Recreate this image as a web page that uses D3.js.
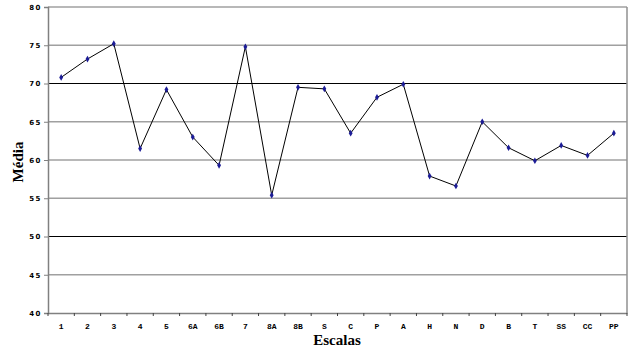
<!DOCTYPE html>
<html><head><meta charset="utf-8">
<script src="https://cdn.jsdelivr.net/npm/d3@7"></script>
<style>body{margin:0;background:#fff}svg{display:block}</style>
</head><body>
<svg id="c" width="637" height="352"></svg>
<script>
const categories = ["1","2","3","4","5","6A","6B","7","8A","8B","S","C","P","A","H","N","D","B","T","SS","CC","PP"];
const values = [70.8,73.2,75.2,61.5,69.2,63.0,59.3,74.8,55.4,69.5,69.3,63.5,68.2,69.9,57.9,56.6,65.0,61.6,59.9,61.9,60.6,63.5];
const yTicks = [40,45,50,55,60,65,70,75,80];
const blackLines = [50,70];

const svg = d3.select("#c");
const m = {left:48, right:627, top:7, bottom:313};
const x = d3.scaleBand().domain(categories).range([m.left, m.right]);
const y = d3.scaleLinear().domain([40,80]).range([m.bottom, m.top]);

// gridlines
svg.append("g").selectAll("line").data(yTicks.filter(v=>v>40)).join("line")
  .attr("x1", m.left).attr("x2", m.right)
  .attr("y1", d=>y(d)).attr("y2", d=>y(d))
  .attr("stroke", d=>blackLines.includes(d) ? "#000" : "#a0a0a0")
  .attr("stroke-width", d=>blackLines.includes(d) ? 1.2 : 1.5);
// right border
svg.append("line").attr("x1", m.right).attr("x2", m.right).attr("y1", m.top).attr("y2", m.bottom)
  .attr("stroke","#909090").attr("stroke-width",1.5);

// y axis
const ya = svg.append("g").attr("transform",`translate(${m.left},0)`)
  .call(d3.axisLeft(y).tickValues(yTicks).tickSize(4).tickPadding(2).tickFormat(d3.format("d")));
ya.select(".domain").attr("stroke","#808080").attr("stroke-width",1.5);
ya.selectAll(".tick line").attr("stroke","#808080");
ya.selectAll("text").attr("font-family","DejaVu Sans").attr("font-size",7).attr("font-weight","bold")
  .attr("fill","#000").attr("letter-spacing","1.5px");

// x axis
const xa = svg.append("g").attr("transform",`translate(0,${m.bottom})`)
  .call(d3.axisBottom(x).tickSize(0).tickPadding(10));
xa.select(".domain").attr("stroke","#808080").attr("stroke-width",1.5);
xa.selectAll("text").attr("font-family","Liberation Mono").attr("font-size",8).attr("font-weight","bold").attr("fill","#000");
// band boundary ticks
const bounds = categories.map(c=>x(c)).concat([m.right]);
xa.append("g").selectAll("line").data(bounds).join("line")
  .attr("x1",d=>d).attr("x2",d=>d).attr("y1",0).attr("y2",3)
  .attr("stroke","#404040").attr("stroke-width",1);

// line
const cx = d=>x(d)+x.bandwidth()/2;
svg.append("path").datum(categories)
  .attr("d", d3.line().x(cx).y((d,i)=>y(values[i])))
  .attr("fill","none").attr("stroke","#000").attr("stroke-width",1);
svg.append("g").selectAll("path").data(categories).join("path")
  .attr("d", d3.symbol(d3.symbolDiamond, 13))
  .attr("transform",(d,i)=>`translate(${cx(d)},${y(values[i])})`)
  .attr("fill","#1c1c96");

// titles
svg.append("text").attr("x",337).attr("y",345).attr("text-anchor","middle")
  .attr("font-family","Liberation Serif").attr("font-weight","bold").attr("font-size",15).text("Escalas");
svg.append("text").attr("transform","translate(23,162) rotate(-90)").attr("text-anchor","middle")
  .attr("font-family","Liberation Serif").attr("font-weight","bold").attr("font-size",15).text("Média");
</script>
</body></html>
